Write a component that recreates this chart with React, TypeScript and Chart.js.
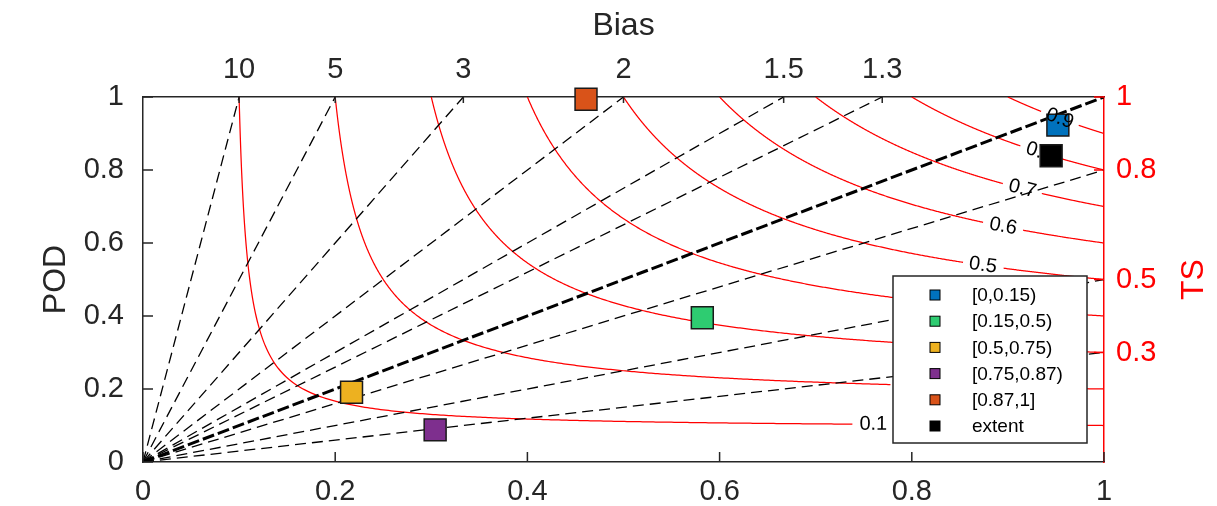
import React, { useEffect, useRef } from 'react';
import { Chart, registerables } from 'chart.js';

Chart.register(...registerables);

// ---- data ----
const xTickValues = [0, 0.2, 0.4, 0.6, 0.8, 1];
const xTickLabels = ['0', '0.2', '0.4', '0.6', '0.8', '1'];
const yTickValues = [0, 0.2, 0.4, 0.6, 0.8, 1];
const yTickLabels = ['0', '0.2', '0.4', '0.6', '0.8', '1'];
const biasValues = [0.3, 0.5, 0.8, 1, 1.3, 1.5, 2, 3, 5, 10];
const biasTopValues = [10, 5, 3, 2, 1.5, 1.3];
const biasTopLabels = ['10', '5', '3', '2', '1.5', '1.3'];
const tsLevels = [0.1, 0.2, 0.3, 0.4, 0.5, 0.6, 0.7, 0.8, 0.9];
const tsLabelNames = ['0.1', '0.2', '0.3', '0.4', '0.5', '0.6', '0.7', '0.8', '0.9'];
const tsLabelSR = [0.76, 0.8, 0.83, 0.855, 0.874, 0.895, 0.915, 0.933, 0.954];
const rightTickValues = [0.3, 0.5, 0.8, 1];
const rightTickLabels = ['0.3', '0.5', '0.8', '1'];
const categories = ['[0,0.15)', '[0.15,0.5)', '[0.5,0.75)', '[0.75,0.87)', '[0.87,1]', 'extent'];
const successRatio = [0.952, 0.582, 0.217, 0.304, 0.461, 0.945];
const podValues = [0.923, 0.395, 0.191, 0.088, 0.994, 0.839];
const colors = ['#0072BD', '#2ECC71', '#EDB120', '#7E2F8E', '#D95319', '#000000'];

const FONT = '"Liberation Sans", Arial, Helvetica, sans-serif';
const AXIS = '#262626';
const RED = '#FF0000';

function podOnTs(t: number, sr: number) {
  return 1 / (1 / t + 1 - 1 / sr);
}
function srOnTs(t: number, pod: number) {
  return 1 / (1 / t + 1 - 1 / pod);
}

const perfPlugin = {
  id: 'perf',
  beforeDatasetsDraw(chart: any) {
    const { ctx, chartArea: a, scales } = chart;
    const x = scales.x, y = scales.y;
    ctx.save();
    ctx.beginPath();
    ctx.rect(a.left, a.top, a.right - a.left, a.bottom - a.top);
    ctx.clip();
    // TS contours
    ctx.strokeStyle = RED;
    ctx.lineWidth = 1.25;
    ctx.setLineDash([]);
    tsLevels.forEach((t, k) => {
      const lsr = tsLabelSR[k];
      const lx = x.getPixelForValue(lsr);
      const ly = y.getPixelForValue(podOnTs(t, lsr));
      const pts: [number, number][] = [];
      const s = (2 * t) / (1 + t);
      const N = 300;
      for (let i = 0; i <= N; i++) {
        const p = 1 - (1 - s) * (i / N);
        pts.push([srOnTs(t, p), p]);
      }
      for (let i = 1; i <= N; i++) {
        const sr = s + (1 - s) * (i / N);
        pts.push([sr, podOnTs(t, sr)]);
      }
      ctx.beginPath();
      let pen = false;
      for (const [sr, p] of pts) {
        const px = x.getPixelForValue(sr);
        const py = y.getPixelForValue(p);
        if (Math.hypot(px - lx, py - ly) < 20) {
          pen = false;
          continue;
        }
        if (!pen) {
          ctx.moveTo(px, py);
          pen = true;
        } else ctx.lineTo(px, py);
      }
      ctx.stroke();
    });
    // bias lines
    ctx.strokeStyle = '#000000';
    biasValues.forEach((b) => {
      const endSR = b > 1 ? 1 / b : 1;
      const endPOD = b > 1 ? 1 : b;
      ctx.lineWidth = b === 1 ? 3 : 1.3;
      ctx.setLineDash(b === 1 ? [12, 4] : [11, 6]);
      ctx.beginPath();
      ctx.moveTo(x.getPixelForValue(0), y.getPixelForValue(0));
      ctx.lineTo(x.getPixelForValue(endSR), y.getPixelForValue(endPOD));
      ctx.stroke();
    });
    ctx.restore();
  },
  afterDatasetsDraw(chart: any) {
    const { ctx, scales } = chart;
    const x = scales.x, y = scales.y;
    ctx.save();
    ctx.font = '20px ' + FONT;
    ctx.fillStyle = '#000000';
    ctx.textAlign = 'center';
    ctx.textBaseline = 'middle';
    tsLevels.forEach((t, k) => {
      const sr = tsLabelSR[k];
      const px = x.getPixelForValue(sr);
      const py = y.getPixelForValue(podOnTs(t, sr));
      const px1 = x.getPixelForValue(sr - 0.005);
      const py1 = y.getPixelForValue(podOnTs(t, sr - 0.005));
      const px2 = x.getPixelForValue(sr + 0.005);
      const py2 = y.getPixelForValue(podOnTs(t, sr + 0.005));
      const ang = Math.atan2(py2 - py1, px2 - px1);
      ctx.save();
      ctx.translate(px, py);
      ctx.rotate(ang);
      ctx.fillText(tsLabelNames[k], 0, 0);
      ctx.restore();
    });
    ctx.restore();
  },
  afterDraw(chart: any) {
    const { ctx, chartArea: a, scales } = chart;
    ctx.save();
    ctx.setLineDash([]);
    ctx.lineWidth = 1.5;
    ctx.strokeStyle = AXIS;
    ctx.beginPath();
    xTickValues.forEach((v) => {
      const px = scales.x.getPixelForValue(v);
      ctx.moveTo(px, a.bottom);
      ctx.lineTo(px, a.bottom - 10);
    });
    yTickValues.forEach((v) => {
      const py = scales.y.getPixelForValue(v);
      ctx.moveTo(a.left, py);
      ctx.lineTo(a.left + 10, py);
    });
    biasTopValues.forEach((b) => {
      const px = scales.xTop.getPixelForValue(1 / b);
      ctx.moveTo(px, a.top);
      ctx.lineTo(px, a.top + 6);
    });
    ctx.stroke();
    ctx.strokeStyle = RED;
    ctx.beginPath();
    rightTickValues.forEach((v) => {
      const py = scales.yRight.getPixelForValue(v);
      ctx.moveTo(a.right, py);
      ctx.lineTo(a.right - 10, py);
    });
    ctx.stroke();

    // right axis title (reads bottom to top)
    ctx.save();
    ctx.font = '32px ' + FONT;
    ctx.fillStyle = RED;
    ctx.textAlign = 'center';
    ctx.textBaseline = 'middle';
    ctx.translate(1194, (a.top + a.bottom) / 2);
    ctx.rotate(-Math.PI / 2);
    ctx.fillText('TS', 0, 0);
    ctx.restore();

    // legend
    const lx = 893, ly = 276, lw = 194, lh = 167;
    ctx.fillStyle = '#FFFFFF';
    ctx.fillRect(lx, ly, lw, lh);
    ctx.strokeStyle = AXIS;
    ctx.lineWidth = 1.5;
    ctx.strokeRect(lx, ly, lw, lh);
    ctx.font = '19px ' + FONT;
    ctx.textAlign = 'left';
    ctx.textBaseline = 'middle';
    categories.forEach((c, i) => {
      const cy = ly + 19 + i * 26.2;
      ctx.fillStyle = colors[i];
      ctx.fillRect(935 - 5, cy - 5, 10, 10);
      ctx.strokeStyle = '#000000';
      ctx.lineWidth = 1;
      ctx.strokeRect(935 - 5, cy - 5, 10, 10);
      ctx.fillStyle = '#000000';
      ctx.fillText(c, 972, cy + 1);
    });
    ctx.restore();
  },
};

export default function App() {
  const ref = useRef<HTMLCanvasElement>(null);
  useEffect(() => {
    if (!ref.current) return;
    const tickFont = { family: FONT, size: 29 };
    const titleFont = { family: FONT, size: 32 };
    const datasets = categories.map((c, i) => ({
      label: c,
      data: [{ x: successRatio[i], y: podValues[i] }],
      pointStyle: 'rect',
      pointRadius: 15.5,
      pointHoverRadius: 15.5,
      backgroundColor: colors[i],
      borderColor: '#1a1a1a',
      borderWidth: 1.5,
      showLine: false,
      clip: false,
      xAxisID: 'x',
      yAxisID: 'y',
    }));
    const chart = new Chart(ref.current, {
      type: 'scatter',
      data: { datasets },
      options: {
        animation: false,
        responsive: false,
        devicePixelRatio: 1,
        layout: { padding: 0 },
        plugins: { legend: { display: false }, tooltip: { enabled: false } },
        scales: {
          x: {
            type: 'linear',
            position: 'bottom',
            min: 0,
            max: 1,
            afterBuildTicks: (s: any) => {
              s.ticks = xTickValues.map((v) => ({ value: v }));
            },
            afterFit: (s: any) => {
              s.height = 44;
            },
            ticks: {
              callback: (_v: any, i: number) => xTickLabels[i],
              font: tickFont,
              color: AXIS,
              padding: 13,
              maxRotation: 0,
              autoSkip: false,
            },
            grid: { display: true, drawOnChartArea: false, drawTicks: false },
            border: { display: true, color: AXIS, width: 1.5 },
          },
          xTop: {
            type: 'linear',
            position: 'top',
            min: 0,
            max: 1,
            afterBuildTicks: (s: any) => {
              s.ticks = biasTopValues.map((b) => ({ value: 1 / b }));
            },
            afterFit: (s: any) => {
              s.height = 97;
            },
            ticks: {
              callback: (_v: any, i: number) => biasTopLabels[i],
              font: tickFont,
              color: AXIS,
              padding: 10,
              maxRotation: 0,
              autoSkip: false,
            },
            title: { display: true, text: 'Bias', font: titleFont, color: AXIS, padding: { top: 7, bottom: 0 } },
            grid: { display: true, drawOnChartArea: false, drawTicks: false },
            border: { display: true, color: AXIS, width: 1.5 },
          },
          y: {
            type: 'linear',
            position: 'left',
            min: 0,
            max: 1,
            afterBuildTicks: (s: any) => {
              s.ticks = yTickValues.map((v) => ({ value: v }));
            },
            afterFit: (s: any) => {
              s.width = 143;
            },
            ticks: {
              callback: (_v: any, i: number) => yTickLabels[i],
              font: tickFont,
              color: AXIS,
              padding: 19,
              autoSkip: false,
            },
            title: { display: true, text: 'POD', font: titleFont, color: AXIS, padding: { top: 37, bottom: 0 } },
            grid: { display: true, drawOnChartArea: false, drawTicks: false },
            border: { display: true, color: AXIS, width: 1.5 },
          },
          yRight: {
            type: 'linear',
            position: 'right',
            min: 0,
            max: 1,
            afterBuildTicks: (s: any) => {
              s.ticks = rightTickValues.map((v) => ({ value: v }));
            },
            afterFit: (s: any) => {
              s.width = 113;
            },
            ticks: {
              callback: (_v: any, i: number) => rightTickLabels[i],
              font: tickFont,
              color: RED,
              padding: 12,
              autoSkip: false,
            },
            title: { display: false },
            grid: { display: true, drawOnChartArea: false, drawTicks: false },
            border: { display: true, color: RED, width: 1.5 },
          },
        },
      } as any,
      plugins: [perfPlugin],
    });
    return () => chart.destroy();
  }, []);
  return (
    <div style={{ position: 'fixed', left: 0, top: 0, width: 1217, height: 506, background: '#fff' }}>
      <canvas ref={ref} width={1217} height={506} />
    </div>
  );
}
